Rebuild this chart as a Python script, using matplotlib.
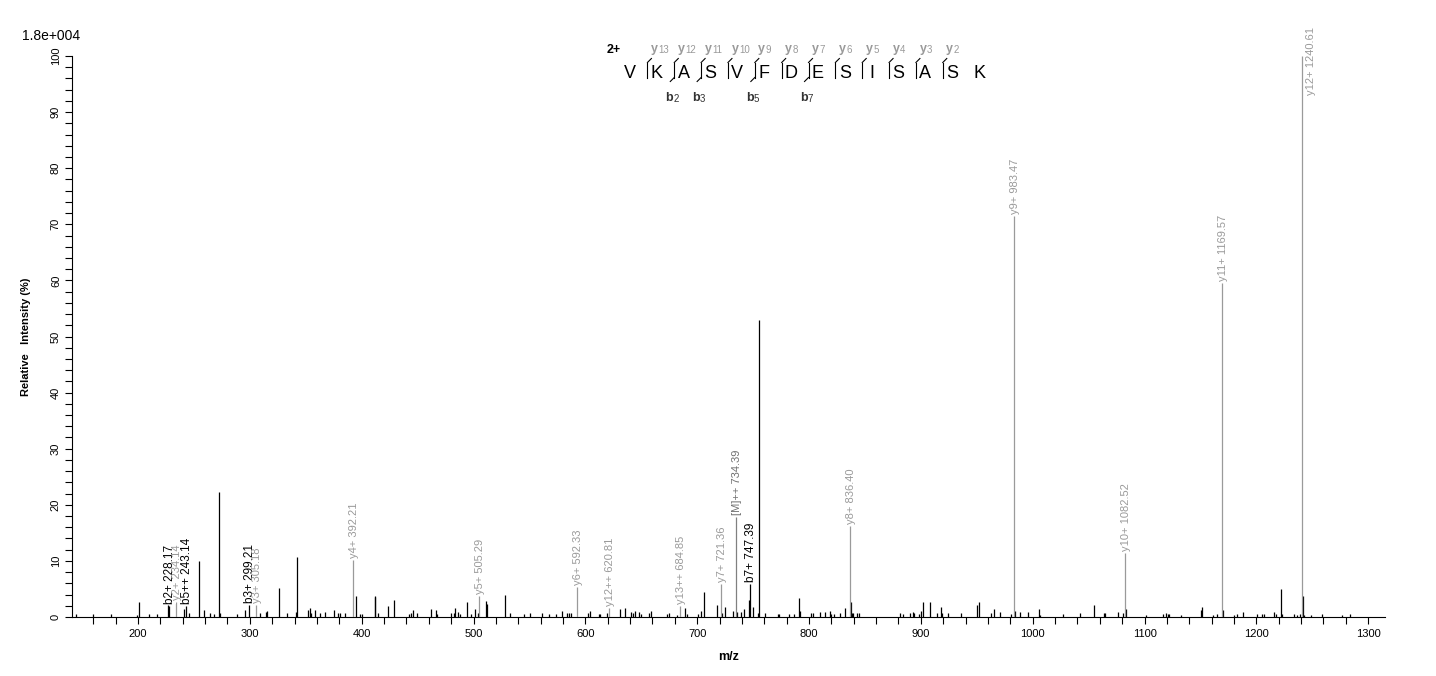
import numpy as np
import matplotlib
matplotlib.use('Agg')
import matplotlib.pyplot as plt
from matplotlib.ticker import MultipleLocator

plt.rcParams['font.family'] = ['Liberation Sans', 'DejaVu Sans']

# unassigned peaks (m/z, relative intensity %)
peak_mz = [144.4, 159.8, 175.9, 199.1, 200.7, 209.7, 216.8, 226.5, 241.1, 245.8,
           255.0, 258.6, 264.0, 268.2, 272.3, 273.4, 288.5, 295.3, 308.7, 314.2,
           315.8, 325.7, 333.2, 340.9, 342.6, 352.2, 353.4, 354.6, 358.7, 362.3,
           367.6, 375.4, 379.0, 380.8, 385.5, 394.8, 398.7, 400.0, 411.6, 412.3,
           415.0, 423.2, 429.3, 442.7, 444.5, 445.7, 449.9, 461.7, 466.2, 467.8,
           479.5, 482.5, 483.7, 486.2, 487.8, 493.8, 497.4, 501.0, 504.0, 511.0,
           511.9, 528.5, 532.2, 545.5, 550.9, 560.8, 567.8, 574.2, 578.7, 583.2,
           585.3, 587.5, 602.8, 604.4, 612.3, 613.2, 619.4, 631.3, 635.9, 640.4,
           642.5, 644.6, 647.7, 649.5, 656.8, 658.6, 672.8, 675.1, 681.7, 689.4,
           691.2, 701.0, 703.7, 706.3, 717.9, 722.4, 725.1, 732.3, 736.0, 739.0,
           742.1, 746.0, 750.2, 754.1, 755.5, 760.4, 772.2, 773.0, 781.8, 786.2,
           790.7, 791.6, 801.7, 803.5, 809.4, 813.9, 818.4, 819.3, 822.0, 827.4,
           831.8, 837.2, 838.6, 839.5, 843.1, 844.9, 881.6, 884.0, 890.5, 893.2,
           894.2, 898.5, 900.2, 902.2, 908.1, 914.6, 918.2, 919.1, 924.4, 936.2,
           950.3, 952.1, 962.8, 965.5, 970.9, 980.7, 984.3, 988.8, 995.9, 1005.8,
           1006.6, 1027.2, 1042.4, 1054.9, 1063.8, 1064.7, 1076.3, 1080.8, 1083.5, 1101.3,
           1116.5, 1119.2, 1121.0, 1121.6, 1132.6, 1150.5, 1151.4, 1161.2, 1164.8, 1170.3,
           1179.6, 1182.9, 1188.2, 1200.5, 1204.7, 1206.5, 1215.7, 1217.5, 1222.3, 1222.9,
           1233.6, 1236.3, 1239.0, 1241.6, 1242.4, 1248.8, 1258.6, 1276.5, 1283.6]
peak_int = [0.6, 0.5, 0.6, 0.4, 2.7, 0.6, 0.6, 2.1, 1.4, 0.8,
            10.0, 1.2, 0.8, 0.5, 22.2, 0.8, 0.5, 1.2, 0.7, 0.9,
            1.0, 5.1, 0.8, 0.9, 10.7, 1.3, 1.6, 0.7, 1.2, 0.7,
            0.9, 1.3, 0.8, 0.8, 0.8, 3.7, 0.6, 0.6, 3.7, 3.5,
            0.8, 2.0, 3.0, 0.5, 0.7, 1.2, 0.8, 1.4, 1.2, 0.6,
            0.8, 0.8, 1.6, 0.9, 0.6, 2.6, 0.6, 1.4, 0.8, 2.8,
            2.3, 3.9, 0.8, 0.6, 0.8, 0.8, 0.6, 0.6, 1.1, 0.8,
            0.8, 0.7, 0.8, 1.0, 0.5, 0.5, 0.8, 1.4, 1.6, 0.9,
            0.8, 1.0, 0.9, 0.6, 0.8, 1.0, 0.5, 0.8, 0.4, 1.6,
            0.6, 0.6, 1.1, 4.5, 2.1, 0.8, 1.8, 1.1, 0.9, 0.9,
            1.4, 3.0, 1.8, 0.8, 53.0, 0.8, 0.5, 0.5, 0.5, 0.5,
            3.4, 1.0, 0.7, 0.7, 0.9, 0.9, 1.1, 0.5, 0.5, 0.7,
            1.6, 2.7, 0.8, 0.8, 0.8, 0.8, 0.7, 0.5, 0.7, 0.9,
            0.8, 0.5, 1.1, 2.7, 2.7, 0.7, 1.7, 0.7, 0.7, 0.7,
            2.1, 2.6, 0.7, 1.4, 0.9, 0.5, 1.1, 0.9, 0.9, 1.4,
            0.4, 0.5, 0.7, 2.2, 0.7, 0.8, 0.9, 0.7, 1.5, 0.4,
            0.5, 0.7, 0.5, 0.6, 0.4, 1.2, 1.8, 0.4, 0.5, 1.2,
            0.4, 0.5, 0.9, 0.5, 0.5, 0.5, 0.9, 0.5, 5.0, 0.5,
            0.5, 0.4, 0.5, 3.7, 0.4, 0.4, 0.5, 0.4, 0.5]

# assigned fragment ions
ion_name = ['b2+', 'y2+', 'b5++', 'b3+', 'y3+', 'y4+', 'y5+', 'y6+', 'y12++',
            'y13++', 'y7+', '[M]++', 'b7+', 'y8+', 'y9+', 'y10+', 'y11+', 'y12+']
ion_mz = [228.17, 234.14, 243.14, 299.21, 305.18, 392.21, 505.29, 592.33, 620.81,
          684.85, 721.36, 734.39, 747.39, 836.40, 983.47, 1082.52, 1169.57, 1240.61]
ion_int = [1.9, 2.7, 2.0, 2.1, 2.1, 10.2, 3.7, 5.4, 1.6,
           2.0, 5.9, 17.8, 5.8, 16.2, 71.5, 11.4, 59.5, 100.0]

sequence = 'VKASVFDESISASK'
b_ions = [2, 3, 5, 7]
charge = '2+'
base_peak = '1.8e+004'

W, H = 1436, 676
fig = plt.figure(figsize=(W / 100, H / 100), dpi=100)
ax = fig.add_axes([72 / W, 1 - 617 / H, (1385 - 72) / W, (617 - 56) / H])

ax.vlines(peak_mz, 0, peak_int, color='black', linewidth=0.9)
grey = '#9a9a9a'
for i, (name, mz, it) in enumerate(zip(ion_name, ion_mz, ion_int)):
    if name.startswith('b'):
        lc, tc, fs = 'black', 'black', 8.5
    elif name.startswith('['):
        lc, tc, fs = '#808080', '#707070', 8
    else:
        lc, tc, fs = grey, grey, 8
    ax.vlines(mz, 0, it, color=lc, linewidth=0.9, zorder=3)
    label = '%s %.2f' % (name, mz)
    if it > 95:
        ax.annotate(label, (mz, it), xytext=(9, 29), textcoords='offset pixels',
                    rotation=90, ha='center', va='top', color=tc, fontsize=fs,
                    annotation_clip=False, zorder=5 + i)
    else:
        ax.annotate(label, (mz, it), xytext=(1, 2), textcoords='offset pixels',
                    rotation=90, ha='center', va='bottom', color=tc, fontsize=fs,
                    bbox=dict(facecolor='white', edgecolor='none', pad=0),
                    annotation_clip=False, zorder=5 + i)

ax.set_xlim(141, 1315)
ax.set_ylim(0, 100)
ax.spines['top'].set_visible(False)
ax.spines['right'].set_visible(False)
ax.spines['left'].set_linewidth(0.8)
ax.spines['bottom'].set_linewidth(0.8)
ax.xaxis.set_major_locator(MultipleLocator(100))
ax.xaxis.set_minor_locator(MultipleLocator(20))
ax.yaxis.set_major_locator(MultipleLocator(10))
ax.yaxis.set_minor_locator(MultipleLocator(2))
ax.tick_params(which='both', direction='out', length=5, width=0.8, labelsize=8)
ax.tick_params(axis='y', pad=3)
for t in ax.get_yticklabels():
    t.set_rotation(90)
    t.set_va('center')
ax.set_xlabel('m/z', fontsize=9, fontweight='bold', labelpad=9)
ax.set_ylabel('Relative   Intensity (%)', fontsize=8, fontweight='bold', labelpad=14)
fig.text(22 / W, 1 - 36 / H, base_peak, fontsize=10, va='center', ha='left')

# sequence coverage header, drawn in pixel space
ov = fig.add_axes([0, 0, 1, 1], facecolor='none')
ov.set_xlim(0, W)
ov.set_ylim(H, 0)
ov.axis('off')
x0, step, yl = 630, 26.85, 73
ov.text(614, 50, charge, fontsize=9, fontweight='bold', ha='center', va='center')
for k, aa in enumerate(sequence):
    ov.text(x0 + k * step, yl, aa, fontsize=13, ha='center', va='center')
n = len(sequence)
for k in range(1, n - 1):
    xb = x0 + (k - 0.5) * step + 4
    ov.plot([xb, xb], [62.5, 77.5], color='black', lw=0.8)
    ov.plot([xb, xb + 4], [62.5, 58.5], color='black', lw=0.8)
    ov.text(xb + 7, 49, 'y', fontsize=9, fontweight='bold', color=grey,
            ha='center', va='center')
    ov.text(xb + 11, 50, str(n - k), fontsize=7, color=grey, ha='left', va='center')
    if k in b_ions:
        ov.plot([xb, xb - 4], [77.5, 81.5], color='black', lw=0.8)
        ov.text(xb - 5, 98, 'b', fontsize=9, fontweight='bold', color='#333333',
                ha='center', va='center')
        ov.text(xb - 1, 99, str(k), fontsize=7, color='#333333',
                ha='left', va='center')

fig.savefig('out.png', dpi=100)
